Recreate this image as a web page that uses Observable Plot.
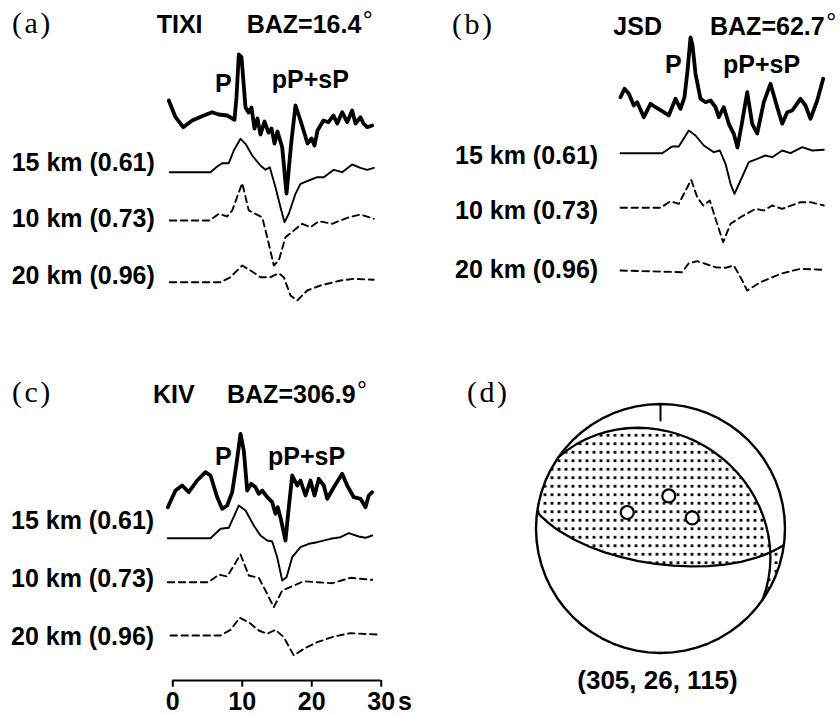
<!DOCTYPE html>
<html><head><meta charset="utf-8">
<script src="https://cdn.jsdelivr.net/npm/d3@7"></script>
<script src="https://cdn.jsdelivr.net/npm/@observablehq/plot@0.6"></script>
<style>
html,body{margin:0;padding:0;background:#fff;}
#fig{position:relative;width:840px;height:715px;overflow:hidden;background:#fff;}
#fig > svg{position:absolute;margin:0;}
</style></head><body>
<svg width="0" height="0" style="position:absolute"><defs>
<pattern id="dots" width="7" height="8.5" patternUnits="userSpaceOnUse"><rect x="2.1" y="2.85" width="2.8" height="2.8" fill="#000"/></pattern>
</defs></svg>
<div id="fig"></div>
<script>
// ---------------- data ----------------
const stations = ["TIXI", "JSD", "KIV"];
const backAzimuths = ["16.4", "62.7", "306.9"];
const depthLabels = ["15 km (0.61)", "10 km (0.73)", "20 km (0.96)"];
const phaseLabels = ["P", "pP+sP"];
const mechanism = [305, 26, 115];           // strike, dip, rake
const timeTicks = [0, 10, 20, 30];
const timeUnit = "s";
// station positions on focal sphere (azimuth, incidence)
const stationAz = [14.3, 71.5, 295.7];
const stationInc = [22.0, 21.9, 24.2];

// traces: [time (s), amplitude]
const tixiObs = [[-0.58,15],[0.39,-1.7],[1.5,-11.7],[2.79,-5],[4.46,0],[5.67,3.3],[6.62,1],[7.83,0],[8.88,-4.3],[9.17,18.3],[9.5,61],[9.89,58.3],[10.46,8.3],[10.9,3],[11.33,8],[11.76,-13],[12.19,-3],[12.62,-19],[13.2,-6],[13.77,-17],[14.21,-13],[14.64,-28],[15.07,-16],[15.75,-32],[16.37,-78],[17.04,-28],[17.66,10],[18.38,-5],[18.96,-18],[19.39,-28],[19.97,-23],[20.4,-30],[20.83,-15],[21.69,-5],[22.41,-6.7],[23.13,0],[23.67,-8],[24.38,3.3],[25.1,-6.7],[25.82,5],[26.3,-8],[27.02,-1.7],[27.45,-8],[27.98,-11.7],[28.7,-10]];
const tixi15 = [[-0.43,0],[5.43,0],[6.39,5.7],[7.11,9],[8.06,9],[8.78,21.7],[9.75,33.4],[10.47,28.4],[11.43,16.7],[12.62,6.7],[13.34,2.4],[13.96,5],[14.78,-15],[15.5,-35],[16.08,-50],[16.7,-41.6],[17.66,-21.6],[18.38,-11.6],[19.58,-8.3],[20.79,-5],[21.74,-5],[23.18,2.4],[24.38,0],[25.82,7.7],[27.02,4.4],[27.98,2.4],[28.93,4.4]];
const tixi10 = [[-0.43,0],[5.33,0],[6.62,6.7],[7.83,4],[8.55,10],[9.99,37.3],[10.94,10],[11.9,6.7],[12.87,3.3],[13.59,-16.7],[14.54,-45],[15.26,-40],[16.22,-16.7],[17.42,-10],[18.63,-3.3],[19.82,-6.7],[21.02,-0.7],[22.95,-3.3],[25.1,2.7],[27.02,6],[28.93,1.7]];
const tixi20 = [[-0.43,0],[6.87,0],[8.31,5],[9.99,16.7],[11.18,11.7],[12.62,5],[14.06,5],[15.26,9],[15.98,5],[16.94,-13.3],[17.91,-18.3],[19.35,-8.3],[21.26,-3.3],[24.15,1.7],[26.05,3.4],[28.93,2.4]];

const jsdObs = [[-0.62,8.3],[-0.04,16.7],[0.58,11.7],[1.3,0],[1.78,3.3],[2.74,-11.7],[3.7,1.7],[4.42,-1.7],[5.61,-6.7],[6.33,-10],[7.3,6.7],[8.02,-3.3],[8.59,8.3],[9.03,35],[9.46,68],[9.75,60],[10.18,31.7],[10.9,6.7],[11.62,3.3],[12.34,5],[13.06,-1.7],[13.53,-11.7],[14.25,-1.7],[14.97,-18.3],[15.69,-28.3],[16.22,-42],[16.8,-20],[17.62,13.3],[18.34,-18.3],[19.06,-28],[20.01,3.3],[20.97,21.7],[21.94,-1.7],[22.66,-18.3],[23.38,-6.7],[24.1,-5],[25.29,6.7],[26.01,0],[26.73,-13.3],[27.7,5],[28.56,26.7]];
const jsd15 = [[-0.62,0],[5.38,0],[6.82,6.7],[7.77,6.7],[9.21,22.7],[10.18,17.7],[11.37,7.7],[12.81,1],[13.68,2.7],[14.5,-10.6],[15.22,-30.6],[15.79,-40.6],[16.66,-27.3],[17.85,-9],[19.06,-5.6],[20.25,-2.3],[21.22,-4],[22.66,2.7],[23.85,0],[25.54,6],[26.98,2.7],[28.65,3.4]];
const jsd10 = [[-0.62,0],[5.14,0],[6.58,6.6],[7.77,4],[9.56,28],[10.42,10.6],[11.29,2.3],[12.24,7.3],[13.06,-11],[14.16,-34.4],[15.22,-16],[16.66,-9.4],[18.82,-1],[20.01,-2.7],[21.22,2.3],[22.66,-1],[25.29,5.6],[26.73,5.6],[28.65,2.3]];
const jsd20 = [[-0.62,0],[8.26,-1.7],[9.21,7.3],[10.42,9.3],[13.06,3.3],[14.5,2.7],[15.69,5],[16.66,-6.7],[17.62,-20],[19.54,-11.7],[22.42,-3.3],[25.29,1.7],[28.65,0.7]];

const kivObs = [[-0.72,-16.7],[0.39,0],[1.35,5],[2.3,-1.7],[3.51,10],[4.71,18.3],[5.43,15],[6.39,-6.7],[7.11,-18.3],[7.83,-15],[8.55,-1.7],[9.17,26.7],[9.75,56.7],[10.22,40],[10.71,0],[11.29,6.7],[11.9,3.3],[12.38,-3.3],[12.87,0],[13.59,-6.7],[14.31,-11.7],[14.78,-23.3],[15.11,-16.7],[15.6,-30],[16.22,-50],[16.7,-16.7],[17.19,15],[17.91,5],[18.38,10],[19.1,-5],[19.82,10],[20.4,-5],[21.02,11.7],[21.74,5],[22.23,-8.3],[23.18,3.3],[24.38,16.7],[25.1,5],[26.05,-6.7],[27.02,-8.3],[27.74,-16.7],[28.21,-5],[28.7,-1.7]];
const kiv15 = [[-0.72,0],[5.43,0],[6.87,9.4],[8.06,10.4],[9.5,32.7],[10.47,27.7],[11.66,12.7],[12.62,2.7],[13.59,-2.3],[14.31,-3.3],[15.03,-19],[15.75,-42.3],[16.37,-39],[17.19,-19],[18.38,-9],[19.58,-5.6],[20.79,-4],[22.7,-0.6],[24.14,1],[25.33,5],[26.77,1.7],[27.74,0.4],[28.7,2.7]];
const kiv10 = [[-0.72,0],[5.18,0],[6.62,7.7],[7.83,5.7],[9.75,27.7],[10.94,6.7],[12.38,4.4],[13.34,-8.3],[14.54,-25],[15.75,-8.3],[17.42,-3.3],[18.86,1],[20.79,0],[22.95,-1],[25.58,4.4],[27.02,3.4],[28.7,2.4]];
const kiv20 = [[-0.33,0],[6.87,0],[8.31,5.7],[9.64,17.7],[10.94,13.3],[12.38,5],[13.59,1.7],[14.78,5.7],[15.98,-1.7],[17.42,-20],[18.86,-13.3],[20.79,-6.7],[23.18,-1],[25.58,2.3],[29.42,1]];

// ---------------- layout ----------------
const SANS = "'Liberation Sans', Arial, Helvetica, sans-serif";
const SERIF = "'Liberation Serif', 'Times New Roman', 'DejaVu Serif', serif";
const X0 = 172.3, X30 = 380.7;
const TICK = 6.7, TICKPAD = 5;
const fig = document.getElementById("fig");

function tracePanel({obs, syn, offsets, left, top, width, height, marginBottom = 0, axis = false}) {
  const rows = (pts, off) => pts.map(([t, a]) => ({t, y: a - off}));
  const plotH = height - marginBottom;
  const marks = [
    Plot.line(rows(obs, offsets[0]), {x: "t", y: "y", stroke: "#000", strokeWidth: 3.8, strokeLinejoin: "round", strokeLinecap: "round"}),
    Plot.line(rows(syn[0], offsets[1]), {x: "t", y: "y", stroke: "#000", strokeWidth: 1.9}),
    Plot.line(rows(syn[1], offsets[2]), {x: "t", y: "y", stroke: "#000", strokeWidth: 1.9, strokeDasharray: "6.5,4.5"}),
    Plot.line(rows(syn[2], offsets[3]), {x: "t", y: "y", stroke: "#000", strokeWidth: 1.9, strokeDasharray: "6.5,4.5"})
  ];
  if (axis) {
    const yAxis = -plotH;
    marks.push(
      Plot.ruleY([yAxis], {x1: timeTicks[0], x2: timeTicks[timeTicks.length - 1], stroke: "#000", strokeWidth: 2}),
      Plot.ruleX(timeTicks, {x: d => d, y1: yAxis, y2: yAxis - TICK, stroke: "#000", strokeWidth: 2}),
      Plot.text(timeTicks, {x: d => d, y: yAxis - TICK - TICKPAD, text: d => String(d), lineAnchor: "top", textAnchor: "middle",
        fontSize: 25, fontWeight: "bold", fontFamily: SANS, fill: "#000"})
    );
  }
  const svg = Plot.plot({
    width, height, marginLeft: X0, marginRight: width - X30, marginTop: 0, marginBottom,
    style: {background: "transparent", fontFamily: SANS, overflow: "visible"},
    x: {domain: [timeTicks[0], timeTicks[timeTicks.length - 1]], axis: null, label: null},
    y: {domain: [-plotH, 0], axis: null},
    marks
  });
  svg.style.position = "absolute";
  svg.style.left = left + "px";
  svg.style.top = top + "px";
  fig.appendChild(svg);
}

tracePanel({obs: tixiObs, syn: [tixi15, tixi10, tixi20], offsets: [115, 171.7, 220, 281.7], left: 0, top: 0, width: 420, height: 320});
tracePanel({obs: jsdObs, syn: [jsd15, jsd10, jsd20], offsets: [105, 152.7, 207.3, 270], left: 452, top: 0, width: 388, height: 320});
tracePanel({obs: kivObs, syn: [kiv15, kiv10, kiv20], offsets: [130, 177.7, 221.7, 275], left: 0, top: 360, width: 420, height: 355, marginBottom: 35, axis: true});

// ---------------- focal mechanism ----------------
const rad = Math.PI / 180;
const [strike1, dip1, rake1] = mechanism;
const sS = Math.sin(strike1 * rad), cS = Math.cos(strike1 * rad);
const sD = Math.sin(dip1 * rad), cD = Math.cos(dip1 * rad);
const sR = Math.sin(rake1 * rad), cR = Math.cos(rake1 * rad);
const n1 = [-sD * sS, sD * cS, -cD];
let slip = [cR * cS + sR * cD * sS, cR * sS - sR * cD * cS, -sR * sD];
if (slip[2] > 0) slip = slip.map(v => -v);
const dip2 = Math.acos(-slip[2]) / rad;
const strike2 = ((Math.atan2(-slip[0], slip[1]) / rad) + 360) % 360;
let nullAx = [n1[1] * slip[2] - n1[2] * slip[1], n1[2] * slip[0] - n1[0] * slip[2], n1[0] * slip[1] - n1[1] * slip[0]];
if (nullAx[2] < 0) nullAx = nullAx.map(v => -v);
const nl = Math.hypot(...nullAx);
const azB = Math.atan2(nullAx[1], nullAx[0]) / rad;
const plB = Math.asin(nullAx[2] / nl) / rad;

const lonOf = az => ((((180 - az) % 360) + 540) % 360) - 180;
const edge = az => [lonOf(az), 0];
const dipPt = (s, d) => [lonOf(s + 90), d];
const Bpt = [lonOf(azB), plB];

const compression = {
  type: "MultiPolygon",
  coordinates: [
    [[edge(strike2 + 180), edge(strike1), dipPt(strike1, dip1), Bpt, dipPt(strike2, dip2), edge(strike2 + 180)]],
    [[Bpt, edge(strike2), edge(strike1 + 180), Bpt]]
  ]
};
const plane1 = {type: "LineString", coordinates: [edge(strike1), dipPt(strike1, dip1), edge(strike1 + 180)]};
const plane2 = {type: "LineString", coordinates: [edge(strike2), dipPt(strike2, dip2), edge(strike2 + 180)]};
const primitive = {type: "LineString", coordinates: [[-180, 0], [-90, 0], [0, 0], [90, 0], [180, 0]]};
const northMark = {type: "LineString", coordinates: [[180, 0], [180, 14.4]]};
const stationPts = stationAz.map((az, i) => ({lon: lonOf(az), lat: 90 - stationInc[i], name: stations[i]}));

const ball = Plot.plot({
  width: 280, height: 280, margin: 0,
  style: {background: "transparent", overflow: "visible"},
  projection: {
    type: "azimuthal-equal-area", rotate: [0, -90], inset: 15.5,
    domain: {type: "MultiPoint", coordinates: [[0, 0], [90, 0], [180, 0], [-90, 0]]}
  },
  marks: [
    Plot.geo(compression, {fill: "url(#dots)", stroke: "none"}),
    Plot.geo(plane1, {stroke: "#000", strokeWidth: 2.3, fill: "none"}),
    Plot.geo(plane2, {stroke: "#000", strokeWidth: 2.3, fill: "none"}),
    Plot.geo(primitive, {stroke: "#000", strokeWidth: 2.4, fill: "none"}),
    Plot.geo(northMark, {stroke: "#000", strokeWidth: 2, fill: "none"}),
    Plot.dot(stationPts, {x: "lon", y: "lat", r: 6.5, fill: "#fff", stroke: "#000", strokeWidth: 2.2})
  ]
});
ball.style.position = "absolute";
ball.style.left = "520px";
ball.style.top = "388.3px";
fig.appendChild(ball);

// ---------------- text overlay ----------------
const ov = d3.select(fig).append("svg")
  .attr("width", 840).attr("height", 715)
  .style("position", "absolute").style("left", "0px").style("top", "0px")
  .style("pointer-events", "none");

function label(x, y, txt, opts = {}) {
  const t = ov.append("text").attr("x", x).attr("y", y)
    .attr("font-family", opts.serif ? SERIF : SANS)
    .attr("font-size", opts.size || 25)
    .attr("font-weight", opts.serif ? "normal" : "bold")
    .attr("text-anchor", opts.anchor || "start")
    .attr("fill", "#000");
  if (opts.spacing) t.attr("letter-spacing", opts.spacing);
  t.append("tspan").text(txt);
  if (opts.deg) t.append("tspan").attr("font-weight", "normal").attr("dx", 1.5).attr("dy", -4).text("\u00b0");
  return t;
}

// panel letters
[["(a)", 12, 33], ["(b)", 452, 33.5], ["(c)", 12, 402], ["(d)", 467, 402]].forEach(([s, x, y]) => label(x, y, s, {serif: true, size: 30, spacing: 2.5}));

// headers
const headerPos = [[156.7, 246.7, 33.3], [613.3, 710, 35], [153, 227, 403.3]];
stations.forEach((s, i) => {
  const [xs, xb, y] = headerPos[i];
  label(xs, y, s);
  label(xb, y, "BAZ=" + backAzimuths[i], {deg: true});
});

// phase labels
const phasePos = [[215, 91.7, 271.7, 88.3], [665, 73, 723, 73], [215, 465, 268, 465]];
phasePos.forEach(([xp, yp, xs, ys]) => { label(xp, yp, phaseLabels[0]); label(xs, ys, phaseLabels[1]); });

// depth labels
const depthPos = [[11.7, [170.7, 227, 284]], [455, [164, 219, 278]], [11, [529, 587, 645]]];
depthPos.forEach(([x, ys]) => ys.forEach((y, i) => label(x, y, depthLabels[i])));

// mechanism caption + time unit
label(657.5, 689, "(" + mechanism.join(", ") + ")", {anchor: "middle", size: 26});
label(398, 709.5, timeUnit);
</script>
</body></html>
